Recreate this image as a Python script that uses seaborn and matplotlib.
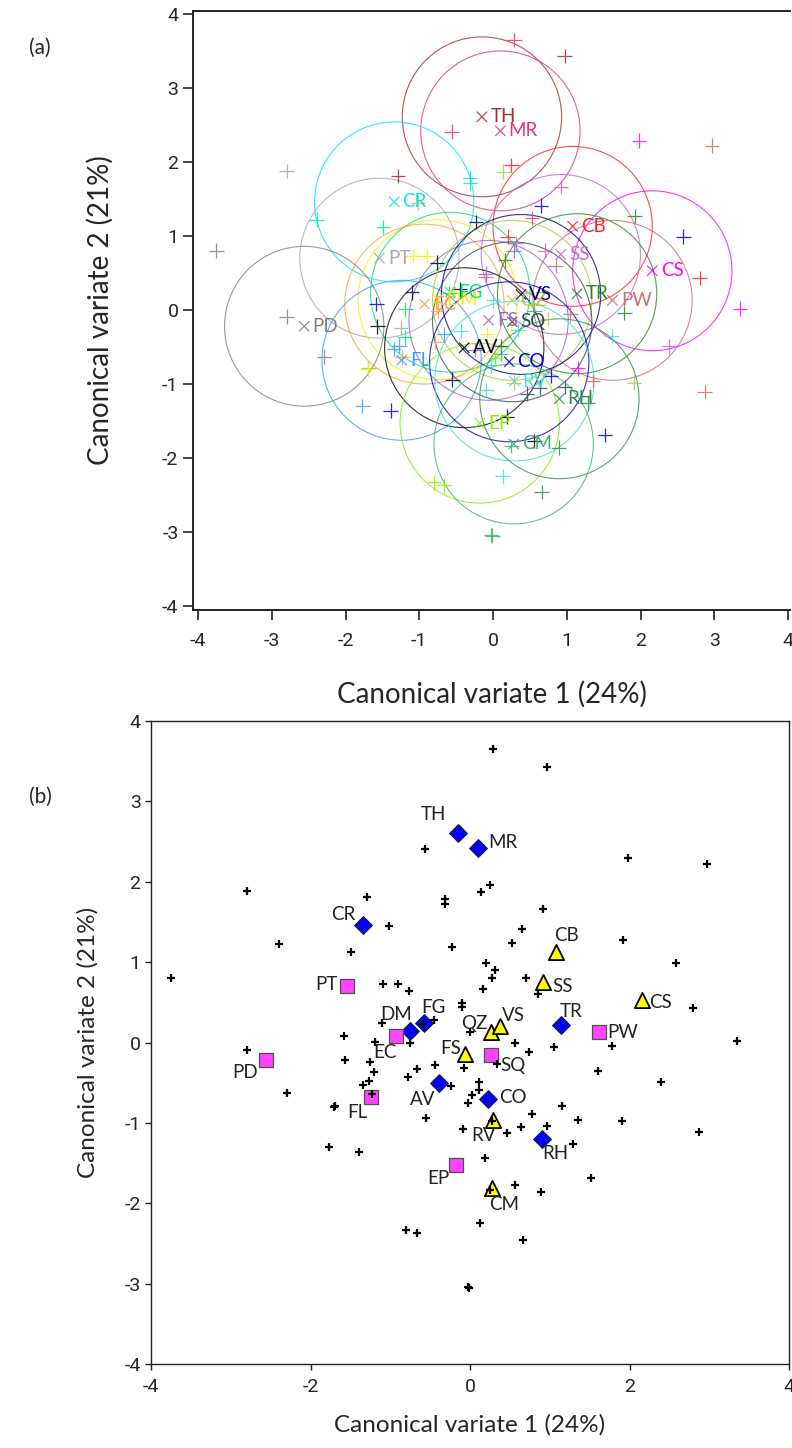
import numpy as np
import pandas as pd
import matplotlib
matplotlib.use("Agg")
import matplotlib.pyplot as plt
from matplotlib.patches import Circle
import seaborn as sns

sns.set_style("white")
plt.rcParams['font.family'] = ['Lato', 'DejaVu Sans']
plt.rcParams['axes.unicode_minus'] = False
NARROW = ['Liberation Sans Narrow', 'Roboto', 'DejaVu Sans']

# group means on the two canonical variates
groups = ["TH", "MR", "CR", "PT", "CB", "SS", "CS", "DM", "FG", "EC", "PD", "FL",
          "AV", "EP", "FS", "TR", "PW", "QZ", "VS", "SQ", "CO", "RV", "RH", "CM"]
mean_cv1 = [-0.15, 0.10, -1.34, -1.54, 1.08, 0.92, 2.16, -0.75, -0.58, -0.93, -2.56, -1.24,
            -0.39, -0.18, -0.06, 1.14, 1.62, 0.26, 0.38, 0.26, 0.22, 0.29, 0.90, 0.28]
mean_cv2 = [2.61, 2.42, 1.46, 0.70, 1.13, 0.75, 0.53, 0.14, 0.24, 0.08, -0.22, -0.68,
            -0.51, -1.53, -0.14, 0.22, 0.13, 0.13, 0.21, -0.16, -0.70, -0.96, -1.20, -1.81]
group_class = ["D", "D", "D", "S", "T", "T", "T", "D", "D", "S", "S", "S",
               "D", "S", "T", "D", "S", "T", "T", "S", "D", "T", "D", "T"]

# individual scores
cv1 = [-0.56, -2.80, -1.29, -0.31, -0.31, -1.02, -2.39, -1.49, -0.23, -3.75,
       -1.09, -0.90, -0.76, -0.10, -0.10, 0.29, 0.97, 1.98, 2.97, 0.25,
       0.14, 0.92, 0.65, 0.53, 1.92, 2.58, 0.20, 0.31, 0.28, 0.16,
       0.70, 0.85, 2.80, -1.10, -0.45, -0.59, -1.58, -1.19, -0.75, 0.00,
       0.56, 0.74, 1.05, -1.57, -1.25, -1.20, -0.66, -0.78, -0.44, -0.08,
       0.34, -1.27, -1.34, -1.23, -0.24, 0.11, 0.11, 0.03, -0.03, -1.69,
       -1.70, 1.15, -2.80, -2.29, -0.55, -0.09, -1.77, -1.39, -0.80, -0.66,
       -0.03, 3.35, 1.78, 1.61, 2.39, 0.78, 1.35, 1.91, 0.28, 0.46,
       0.64, 0.97, 1.29, 2.87, 0.19, 1.52, 0.56, 0.89, 0.25, 0.13,
       0.66, -0.01]
cv2 = [2.41, 1.88, 1.81, 1.79, 1.72, 1.45, 1.22, 1.12, 1.19, 0.80,
       0.73, 0.73, 0.64, 0.49, 0.44, 3.65, 3.43, 2.29, 2.22, 1.96,
       1.87, 1.66, 1.41, 1.24, 1.27, 0.99, 0.99, 0.90, 0.80, 0.67,
       0.80, 0.60, 0.43, 0.24, 0.28, 0.23, 0.08, 0.01, -0.01, 0.13,
       -0.01, -0.12, -0.06, -0.22, -0.24, -0.37, -0.33, -0.43, -0.28, -0.32,
       -0.27, -0.48, -0.53, -0.64, -0.54, -0.49, -0.59, -0.65, -0.75, -0.79,
       -0.80, -0.79, -0.09, -0.63, -0.94, -1.08, -1.30, -1.36, -2.33, -2.37,
       -3.04, 0.02, -0.04, -0.35, -0.49, -0.89, -0.96, -0.98, -0.98, -1.13,
       -1.05, -1.04, -1.26, -1.11, -1.44, -1.69, -1.77, -1.86, -1.84, -2.25,
       -2.46, -3.05]
member = ["MR", "PT", "TH", "CR", "CR", "EC", "CR", "FG", "VS", "PD",
          "DM", "DM", "AV", "FS", "SS", "MR", "TH", "CS", "PW", "CB",
          "QZ", "SS", "CO", "MR", "TR", "CO", "CB", "SS", "FS", "TR",
          "SS", "PW", "CB", "VS", "AV", "FG", "CO", "FG", "EC", "RV",
          "CM", "QZ", "PW", "AV", "PT", "FG", "FL", "EC", "RV", "DM",
          "RV", "FL", "FL", "EC", "FS", "SQ", "CM", "EP", "RV", "QZ",
          "DM", "CS", "PD", "PD", "VS", "RV", "FL", "CO", "EP", "EP",
          "CM", "CS", "TR", "RV", "SS", "CO", "PW", "QZ", "EC", "SQ",
          "SQ", "SQ", "RH", "PW", "AV", "CO", "AV", "RH", "CM", "RV",
          "RH", "CM"]

RADIUS = 1.08

colours = {"TH": "#a52a2a", "MR": "#e8337a", "CR": "#00e5ee", "PT": "#a8a8a8",
           "CB": "#ff2020", "SS": "#c066d6", "CS": "#ff00ff", "DM": "#f2f200",
           "FG": "#00e676", "EC": "#ffa040", "PD": "#808080", "FL": "#3a9aff",
           "AV": "#000000", "EP": "#88ee00", "FS": "#9966cc", "TR": "#228b22",
           "PW": "#cd6b6b", "QZ": "#a8c848", "VS": "#000080", "SQ": "#2f4f4f",
           "CO": "#0000cd", "RV": "#40e0d0", "RH": "#2e8b57", "CM": "#3cb371"}

means = pd.DataFrame({"group": groups, "cv1": mean_cv1, "cv2": mean_cv2, "cls": group_class})
scores = pd.DataFrame({"cv1": cv1, "cv2": cv2, "group": member})

fig = plt.figure(figsize=(7.92, 14.48), dpi=100)

# ---------------- (a)
ax = fig.add_axes([193 / 792, 1 - 610 / 1448, 597 / 792, 599 / 1448])
for g, x, y in zip(groups, mean_cv1, mean_cv2):
    ax.add_patch(Circle((x, y), RADIUS, fill=False, ec=colours[g], lw=0.8, alpha=0.8))
sns.scatterplot(data=scores, x="cv1", y="cv2", hue="group", palette=colours,
                marker="+", s=110, linewidth=0.9, alpha=0.85, legend=False, ax=ax)
sns.scatterplot(data=means, x="cv1", y="cv2", hue="group", palette=colours,
                marker="x", s=55, linewidth=0.9, alpha=0.85, legend=False, ax=ax)
for g, x, y in zip(groups, mean_cv1, mean_cv2):
    ax.annotate(g, (x, y), xytext=(6, 0), textcoords="offset points",
                ha="left", va="center", fontsize=13.5, color=colours[g])
ax.set_xlim(-4.068, 4.027)
ax.set_ylim(-4.054, 4.04)
ax.set_xticks(range(-4, 5))
ax.set_yticks(range(-4, 5))
ax.spines["right"].set_visible(False)
for s in ["left", "bottom", "top"]:
    ax.spines[s].set_linewidth(1.4)
    ax.spines[s].set_color("#222222")
ax.tick_params(direction="out", length=7, width=1.2, color="#222222", left=True, bottom=True)
ax.tick_params(axis="x", pad=9)
for lab in ax.get_xticklabels() + ax.get_yticklabels():
    lab.set_family(NARROW)
    lab.set_fontsize(14)
ax.set_xlabel("Canonical variate 1 (24%)", fontsize=20)
ax.set_ylabel("Canonical variate 2 (21%)", fontsize=20)
ax.xaxis.set_label_coords(0.5, -0.14)
ax.xaxis.label.set_va("center")
ax.yaxis.set_label_coords(-0.156, 0.5)
ax.yaxis.label.set_va("center")

# ---------------- (b)
bx = fig.add_axes([151 / 792, 1 - 1364 / 1448, 638 / 792, 643 / 1448])
styles = {"D": ("D", "#0000ff", "#1a1a40", 80, 0.9),
          "T": ("^", "#ffff00", "#000000", 120, 1.3),
          "S": ("s", "#ff44ff", "#505050", 90, 0.9)}
for c, (m, fc, ec, size, lw) in styles.items():
    sns.scatterplot(data=means[means["cls"] == c], x="cv1", y="cv2", marker=m,
                    color=fc, edgecolor=ec, s=size, linewidth=lw, legend=False,
                    ax=bx, zorder=3)
sns.scatterplot(data=scores, x="cv1", y="cv2", marker="+", color="black",
                s=28, linewidth=1.6, legend=False, ax=bx, zorder=4)

label_offsets = {"TH": (-25, -18), "MR": (25, -5), "CR": (-20, -11), "PT": (-21, -2),
                 "CB": (10, -16), "SS": (19, 4), "CS": (18, 3), "DM": (-14, -17),
                 "FG": (10, -16), "EC": (-11, 16), "PD": (-21, 12), "FL": (-14, 15),
                 "AV": (-16, 16), "EP": (-17, 13), "FS": (-15, -5), "TR": (10, -13),
                 "PW": (23, 0), "QZ": (-16, -9), "VS": (13, -10), "SQ": (22, 10),
                 "CO": (25, -1), "RV": (-10, 16), "RH": (14, 15), "CM": (12, 17)}
for g, x, y in zip(groups, mean_cv1, mean_cv2):
    dx, dy = label_offsets[g]
    bx.annotate(g, (x, y), xytext=(dx * 0.72, -dy * 0.72), textcoords="offset points",
                ha="center", va="center", fontsize=13.5, color="#222222", zorder=5)
bx.set_xlim(-4, 4)
bx.set_ylim(-4, 4)
bx.set_xticks([-4, -2, 0, 2, 4])
bx.set_yticks(range(-4, 5))
for s in bx.spines.values():
    s.set_linewidth(1.0)
    s.set_color("#222222")
bx.tick_params(direction="out", length=4, width=1.0, color="#222222", left=True, bottom=True)
bx.tick_params(axis="x", pad=6)
for lab in bx.get_xticklabels() + bx.get_yticklabels():
    lab.set_family(NARROW)
    lab.set_fontsize(14)
bx.set_xlabel("Canonical variate 1 (24%)", fontsize=17.5)
bx.set_ylabel("Canonical variate 2 (21%)", fontsize=17.5)
bx.xaxis.set_label_coords(0.5, -0.095)
bx.xaxis.label.set_va("center")
bx.yaxis.set_label_coords(-0.099, 0.5)
bx.yaxis.label.set_va("center")

fig.text(40 / 792, 1 - 48 / 1448, "(a)", fontsize=15, ha="center", va="center")
fig.text(40 / 792, 1 - 797 / 1448, "(b)", fontsize=15, ha="center", va="center")

fig.savefig("out.png", dpi=100)
